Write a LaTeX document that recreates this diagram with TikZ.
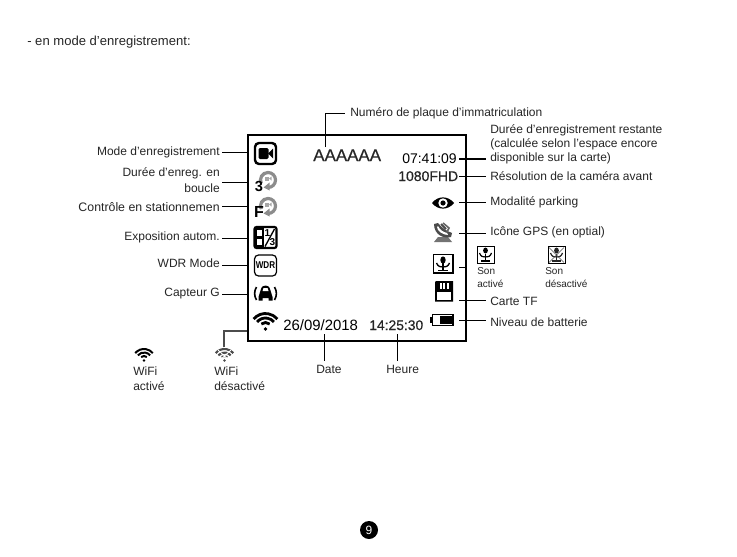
\documentclass[tikz,border=0pt]{standalone}
\usepackage{fontspec}
\setmainfont{Liberation Sans}
\newfontfamily\lcdbold[FakeBold=0.5]{Liberation Sans}
\begin{document}
\begin{tikzpicture}[x=0.75pt,y=-0.75pt,
  lab/.style={font=\fontsize{9}{11}\selectfont,inner sep=0pt,text=black!85},
  labL/.style={lab,anchor=base west},
  labR/.style={lab,anchor=base east},
  small/.style={font=\fontsize{7.5}{9}\selectfont,inner sep=0pt,anchor=base west,text=black!85},
  lcd/.style={inner sep=0pt,anchor=base west},
  lcdb/.style={font=\lcdbold,inner sep=0pt,anchor=base west},
  conn/.style={draw=black,line width=0.6pt},
  gic/.style={draw=black!45,line width=2.4pt},
  box/.style={draw=black,line width=1.1pt}]
\useasboundingbox (0,0) rectangle (737,556);
\fill[white] (0,0) rectangle (737,556);
% frame
\node[draw=black,line width=1.5pt,inner sep=0pt,minimum width=163.5pt,minimum height=154.5pt,anchor=north west] (frame) at (247,134) {};
% top heading
\node[labL,font=\fontsize{9.8}{11}\selectfont] (head) at (27,46) {- en mode d’enregistrement:};
% left labels
\node[labR] (mode) at (220,155) {Mode d’enregistrement};
\node[labR] (duree1) at (220,176) {Durée d’enreg. en};
\node[labR] (duree2) at (220,192) {boucle};
\node[labR,font=\fontsize{9.25}{11}\selectfont] (ctrl) at (220,211) {Contrôle en stationnemen};
\node[labR] (expo) at (220,240) {Exposition autom.};
\node[labR] (wdr) at (220,267) {WDR Mode};
\node[labR] (gsens) at (220,296) {Capteur G};
% right labels
\node[labL] (plaque) at (350,117) {Numéro de plaque d’immatriculation};
\node[labL] (rest1) at (490,133) {Durée d’enregistrement restante};
\node[labL] (rest2) at (490,147) {(calculée selon l’espace encore};
\node[labL] (rest3) at (490,161) {disponible sur la carte)};
\node[labL] (reso) at (490,180) {Résolution de la caméra avant};
\node[labL] (park) at (490,205) {Modalité parking};
\node[labL] (gps) at (490,235) {Icône GPS (en optial)};
\node[labL] (tf) at (490,305) {Carte TF};
\node[labL] (batt) at (490,326) {Niveau de batterie};
\node[small] (son1) at (477,274) {Son};
\node[small] (son1b) at (477,287) {activé};
\node[small] (son2) at (545,274) {Son};
\node[small] (son2b) at (545,287) {désactivé};
% bottom labels
\node[labL] (wifi1) at (133,375) {WiFi};
\node[labL] (wifi1b) at (133,390) {activé};
\node[labL] (wifi2) at (214,375) {WiFi};
\node[labL] (wifi2b) at (214,390) {désactivé};
\node[labL] (date) at (316,373) {Date};
\node[labL] (heure) at (386,373) {Heure};
% LCD text
\node[lcdb,text=black!85] (plate) at (313,161) {\fontsize{12.7}{12}\selectfont AAAAAA};
\node[lcd] (tleft) at (402,163) {\fontsize{10.5}{12}\selectfont 07:41:09};
\node[lcdb,text=black!85] (res) at (398,181) {\fontsize{10.5}{12}\selectfont 1080FHD};
\node[lcd] (ddate) at (283,330.5) {\fontsize{11.2}{12}\selectfont 26/09/2018};
\node[lcdb,text=black!85] (dtime) at (369,330) {\fontsize{10.4}{12}\selectfont 14:25:30};
% connector end points
\coordinate (a1) at (222,152); \coordinate (b1) at (247,152);
\coordinate (a2) at (222,182); \coordinate (b2) at (247,182);
\coordinate (a3) at (222,206); \coordinate (b3) at (247,206);
\coordinate (a4) at (222,238); \coordinate (b4) at (247,238);
\coordinate (a5) at (222,265); \coordinate (b5) at (247,265);
\coordinate (a6) at (222,294); \coordinate (b6) at (247,294);
\coordinate (c1) at (459,159); \coordinate (d1) at (486,159);
\coordinate (c2) at (459,176); \coordinate (d2) at (486,176);
\coordinate (c3) at (459,202); \coordinate (d3) at (486,202);
\coordinate (c4) at (459,233); \coordinate (d4) at (486,233);
\coordinate (c5) at (459,267); \coordinate (d5) at (467,267);
\coordinate (c6) at (459,300); \coordinate (d6) at (486,300);
\coordinate (c7) at (459,320); \coordinate (d7) at (486,320);
\coordinate (e1) at (324,334); \coordinate (f1) at (324,361);
\coordinate (e2) at (397,334); \coordinate (f2) at (397,361);
\coordinate (g0) at (325,147); \coordinate (g1) at (325,113); \coordinate (g2) at (345,113);
\coordinate (h0) at (247,331); \coordinate (h1) at (224,331); \coordinate (h2) at (224,347);
% connectors
\foreach \i in {1,...,6}{\draw[conn] (a\i) -- (b\i);}
\foreach \i in {2,...,7}{\draw[conn] (c\i) -- (d\i);}
\draw[conn,line width=1.4pt] (c1) -- (d1);
\draw[conn] (e1) -- (f1);
\draw[conn] (e2) -- (f2);
\draw[conn] (g0) -- (g1) -- (g2);
\draw[conn,draw=black!70,line width=0.9pt] (h0) -- (h1) -- (h2);
% camcorder
\draw[box,line width=1.8pt,rounded corners=3pt] (255,143) rectangle (276,164);
\fill[black,rounded corners=1pt] (258.5,148) rectangle (268.5,159);
\fill[black] (268,153.5) -- (273,148.5) -- (273,158.5) -- cycle;
% loop icons
\foreach \yy in {180,206}{
  \begin{scope}[shift={(268,\yy)}]
  \draw[gic] (90:7.5) arc[start angle=90,end angle=-205,radius=7.5];
  \fill[black!45] (-4.5,7.5) -- (1.5,2.5) -- (1.5,10.5) -- cycle;
  \fill[black!35] (-3,-3.5) rectangle (1,0.5);
  \fill[black!35] (1,-1.5) -- (3.5,-3.5) -- (3.5,0.5) -- cycle;
  \end{scope}
}
\node[font=\fontsize{11}{11}\selectfont\bfseries,inner sep=0pt] (loop3) at (259,186) {3};
\node[font=\fontsize{12}{12}\selectfont\bfseries,inner sep=0pt] (loopF) at (259,212) {F};
% exposure
\draw[box,line width=1.6pt,rounded corners=1.5pt] (254.5,227) rectangle (276.5,248);
\fill[black] (254.5,227) rectangle (263.5,248);
\fill[white] (257,230) rectangle (261.5,236);
\fill[white] (257,239) rectangle (261.5,245);
\node[font=\fontsize{7.5}{7}\selectfont\bfseries,inner sep=0pt] (e1t) at (267.5,233) {1};
\node[font=\fontsize{7.5}{7}\selectfont\bfseries,inner sep=0pt] (e3t) at (272.5,242.5) {3};
\draw[black,line width=1pt] (265,246.5) -- (274.5,229);
% WDR
\draw[black,line width=0.9pt,rounded corners=3pt] (254.5,255) rectangle (276.5,276);
\node[font=\fontsize{7.4}{7}\selectfont\bfseries,inner sep=0pt,xscale=0.82] (wdrt) at (265.5,265.5) {WDR};
% G sensor car
\fill[black] (258.5,297) -- (260.5,290.5) .. controls (261.5,286.5) and (263,285.5) .. (265.5,285.5) .. controls (268,285.5) and (269.5,286.5) .. (270.5,290.5) -- (272.5,297) -- (272.5,300.5) -- (268.5,300.5) -- (268.5,298) -- (262.5,298) -- (262.5,300.5) -- (258.5,300.5) -- cycle;
\fill[white] (263.5,288) -- (267.5,288) -- (268.5,291) -- (262.5,291) -- cycle;
\draw[black,line width=1.2pt] (256.5,287) .. controls (254,291) and (254,296) .. (256.5,300);
\draw[black,line width=1.2pt] (274.5,287) .. controls (277,291) and (277,296) .. (274.5,300);
% WiFi main
\fill[black] (265.5,329) circle (1.9);
\draw[line width=2.1pt] (265.5,329) ++(-130:6.5) arc[start angle=-130,end angle=-50,radius=6.5];
\draw[line width=2.1pt] (265.5,329) ++(-140:11) arc[start angle=-140,end angle=-40,radius=11];
\draw[line width=2.1pt] (265.5,329) ++(-140:15.5) arc[start angle=-140,end angle=-40,radius=15.5];
% small WiFi on
\fill[black] (144,360.5) circle (1.3);
\draw[line width=1.5pt] (144,360.5) ++(-130:4.5) arc[start angle=-130,end angle=-50,radius=4.5];
\draw[line width=1.5pt] (144,360.5) ++(-140:8) arc[start angle=-140,end angle=-40,radius=8];
\draw[line width=1.5pt] (144,360.5) ++(-140:11.5) arc[start angle=-140,end angle=-40,radius=11.5];
% small WiFi off
\fill[black!70] (224.5,360.5) circle (1.3);
\draw[black!70,line width=1.6pt] (224.5,360.5) ++(-130:4.5) arc[start angle=-130,end angle=-50,radius=4.5];
\draw[black!70,line width=1.6pt] (224.5,360.5) ++(-140:8) arc[start angle=-140,end angle=-40,radius=8];
\draw[black!70,line width=1.6pt] (224.5,360.5) ++(-140:11.5) arc[start angle=-140,end angle=-40,radius=11.5];
\draw[white,line width=0.7pt] (218,350) -- (231,362) (231,350) -- (218,362);
% eye
\fill[black] (432,203) .. controls (438,195.5) and (448,195.5) .. (454,203) .. controls (448,210.5) and (438,210.5) .. (432,203) -- cycle;
\fill[white] (443,203) circle (4.7);
\fill[black] (443,203) circle (2.6);
% GPS
\begin{scope}[shift={(443,232)}]
\fill[black!55] (-9,10) -- (-5,5) -- (5,5) -- (9,10) -- cycle;
\fill[black!70] (-9,-8) -- (-5,-9) .. controls (-2,-5) and (3,-1) .. (9,1) -- (8,5) .. controls (1,7) and (-9,3) .. (-9,-8) -- cycle;
\fill[white] (-6,-5) .. controls (-6,-1) and (0,3) .. (5,3) -- (4,1) .. controls (0,0) and (-3,-2) .. (-5,-6) -- cycle;
\draw[black!70,line width=1.5pt] (-2,-8) -- (3,-3);
\draw[black!60,line width=1.2pt] (0,-9) -- (6,-4) -- (4,0);
\end{scope}
% mic box main
\draw[box] (433.5,254.5) rectangle (453,273);
\fill[black] (443,260) ellipse (2.7 and 3.6);
\draw[line width=1pt] (436.5,263) .. controls (438,267) and (441,267) .. (443,267) .. controls (445,267) and (448,267) .. (449.5,263);
\draw[line width=1pt] (443,263) -- (443,270) (438,270.5) -- (448,270.5);
% mic box on
\draw[black,line width=0.7pt] (477,246.5) rectangle (494.5,263.5);
\fill[black] (485.5,250.5) ellipse (2.4 and 3);
\draw[line width=0.9pt] (479.5,253) .. controls (481,257) and (483,257) .. (485.5,257) .. controls (488,257) and (490,257) .. (491.5,253);
\draw[line width=0.9pt] (485.5,254) -- (485.5,261) (481,261) -- (490,261);
% mic box off
\draw[black,line width=0.7pt] (548,246.5) rectangle (565,263.5);
\fill[black!85] (556.5,250.5) ellipse (2.4 and 3);
\draw[black!85,line width=0.9pt] (550.5,253) .. controls (552,257) and (554,257) .. (556.5,257) .. controls (559,257) and (561,257) .. (562.5,253);
\draw[black!85,line width=0.9pt] (556.5,254) -- (556.5,261) (552,261) -- (561,261);
\draw[black!70,line width=0.5pt] (549,247.5) -- (564,262.5) (564,247.5) -- (549,262.5);
% SD
\fill[black] (436,281) -- (453,281) -- (453,301.5) -- (435,301.5) -- (435,282) -- cycle;
\fill[white] (437,292) rectangle (451,299.5);
\fill[white] (439.5,283) rectangle (441.5,289);
\fill[white] (443,283) rectangle (445,289);
\fill[white] (446.5,283) rectangle (448.5,289);
% battery
\draw[box,line width=1.3pt] (432.5,314.5) rectangle (453,325.5);
\fill[black] (429.5,317) rectangle (432.5,323);
\fill[black] (439.5,316) rectangle (451.5,324);
% page number
\node[circle,fill=black,text=white,inner sep=0pt,minimum size=13.5pt,font=\fontsize{9}{9}\selectfont] (page) at (369,530) {9};
\end{tikzpicture}
\end{document}
